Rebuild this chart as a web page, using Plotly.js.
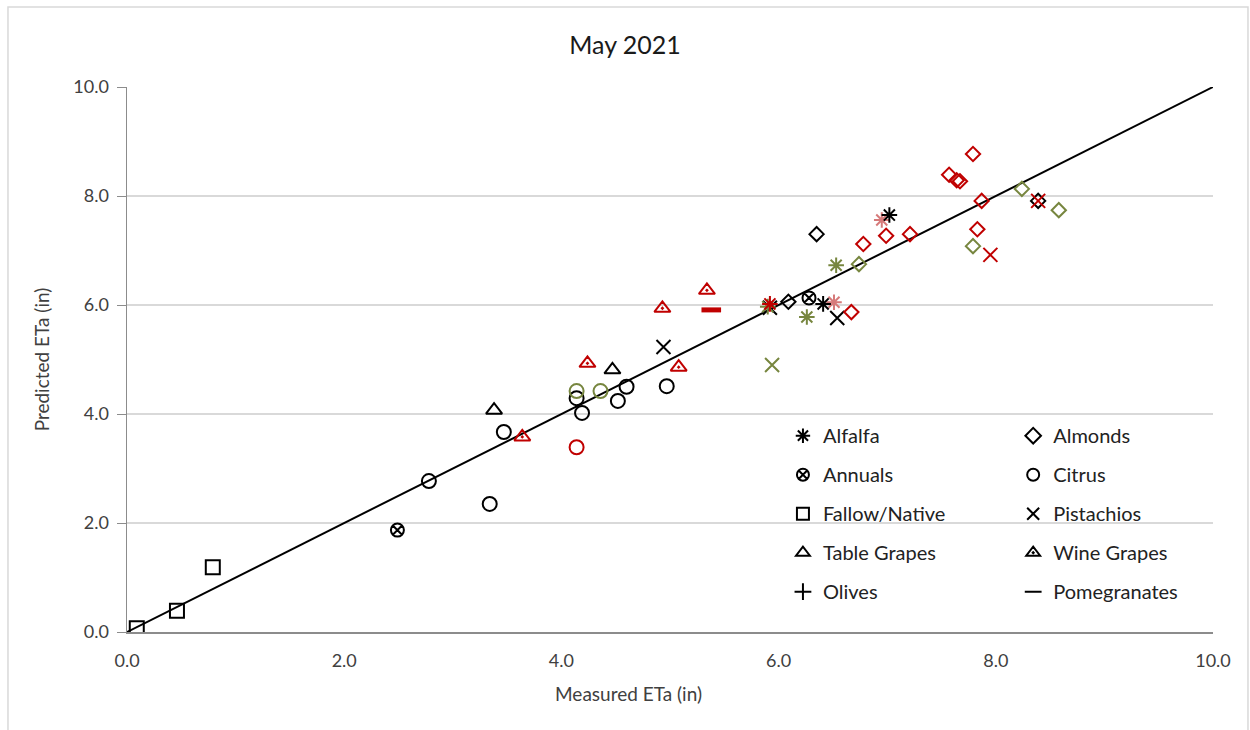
<!DOCTYPE html>
<html>
<head>
<meta charset="utf-8">
<script src="https://cdn.plot.ly/plotly-3.0.1.min.js"></script>
<style>html,body{margin:0;padding:0;background:#fff;}#chart{width:1250px;height:730px;}</style>
</head>
<body>
<div id="chart"></div>
<script>
// ---- data (Measured ETa x, Predicted ETa y, inches) ----
const oneToOneX = [0, 10];
const oneToOneY = [0, 10];

const alfalfaBlackX = [7.02, 6.41];
const alfalfaBlackY = [7.65, 6.02];
const alfalfaRedX = [5.92];
const alfalfaRedY = [6.02];
const alfalfaOliveX = [6.26, 6.53, 5.90];
const alfalfaOliveY = [5.78, 6.73, 5.97];
const alfalfaPinkX = [6.95, 6.51];
const alfalfaPinkY = [7.56, 6.05];

const almondsBlackX = [6.35, 6.09, 8.39];
const almondsBlackY = [7.30, 6.06, 7.91];
const almondsRedX = [6.78, 6.99, 7.21, 6.67, 7.79, 7.57, 7.64, 7.67, 7.87, 7.83];
const almondsRedY = [7.12, 7.27, 7.30, 5.87, 8.77, 8.39, 8.29, 8.27, 7.91, 7.39];
const almondsOliveX = [6.74, 7.79, 8.24, 8.58];
const almondsOliveY = [6.75, 7.08, 8.13, 7.74];

const annualsBlackX = [2.49, 6.28];
const annualsBlackY = [1.87, 6.13];

const citrusBlackX = [2.78, 3.34, 3.47, 4.14, 4.19, 4.52, 4.60, 4.97];
const citrusBlackY = [2.77, 2.35, 3.67, 4.29, 4.02, 4.24, 4.50, 4.51];
const citrusOliveX = [4.14, 4.36];
const citrusOliveY = [4.42, 4.42];
const citrusRedX = [4.14];
const citrusRedY = [3.39];

const fallowBlackX = [0.09, 0.46, 0.79];
const fallowBlackY = [0.07, 0.39, 1.19];

const pistachiosBlackX = [4.94, 6.54, 5.92];
const pistachiosBlackY = [5.23, 5.76, 5.95];
const pistachiosRedX = [7.95, 8.39];
const pistachiosRedY = [6.92, 7.91];
const pistachiosOliveX = [5.94];
const pistachiosOliveY = [4.90];

const tableGrapesBlackX = [3.38, 4.47];
const tableGrapesBlackY = [4.07, 4.81];

const wineGrapesRedX = [3.64, 4.24, 5.08, 4.93, 5.34];
const wineGrapesRedY = [3.58, 4.93, 4.86, 5.94, 6.27];

const pomegranatesRedX = [5.38];
const pomegranatesRedY = [5.91];

const olivesX = [];
const olivesY = [];

const legendLeft = ['Alfalfa', 'Annuals', 'Fallow/Native', 'Table Grapes', 'Olives'];
const legendRight = ['Almonds', 'Citrus', 'Pistachios', 'Wine Grapes', 'Pomegranates'];

const xTickVals = [0, 2, 4, 6, 8, 10];
const yTickVals = [0, 2, 4, 6, 8, 10];
const titleText = 'May 2021';
const xTitleText = 'Measured ETa (in)';
const yTitleText = 'Predicted ETa (in)';

// ---- styles ----
const C = {black: '#000000', red: '#C00000', olive: '#77863F', pink: '#D67A7A'};
const SYM = {
  'Alfalfa': {s: 'asterisk-open', z: 13},
  'Almonds': {s: 'diamond-open', z: 11},
  'Annuals': {s: 'circle-x-open', z: 13},
  'Citrus': {s: 'circle-open', z: 14},
  'Fallow/Native': {s: 'square-open', z: 14},
  'Pistachios': {s: 'x-thin-open', z: 14},
  'Table Grapes': {s: 'triangle-up-open', z: 14},
  'Wine Grapes': {s: 'triangle-up-open-dot', z: 14},
  'Olives': {s: 'cross-thin-open', z: 13},
  'Pomegranates': {s: 'line-ew-open', z: 14}
};

const traces = [];
traces.push({x: oneToOneX, y: oneToOneY, mode: 'lines', line: {color: '#000', width: 2}, showlegend: false, hoverinfo: 'skip'});

function pts(name, color, xs, ys) {
  const st = SYM[name];
  traces.push({
    x: xs, y: ys, mode: 'markers', name: name, showlegend: false,
    marker: {symbol: st.s, size: st.z, color: color, line: {color: color, width: name === 'Pomegranates' ? 5 : 2}}
  });
}
pts('Fallow/Native', C.black, fallowBlackX, fallowBlackY);
pts('Citrus', C.black, citrusBlackX, citrusBlackY);
pts('Citrus', C.olive, citrusOliveX, citrusOliveY);
pts('Citrus', C.red, citrusRedX, citrusRedY);
pts('Annuals', C.black, annualsBlackX, annualsBlackY);
pts('Table Grapes', C.black, tableGrapesBlackX, tableGrapesBlackY);
pts('Wine Grapes', C.red, wineGrapesRedX, wineGrapesRedY);
pts('Pomegranates', C.red, pomegranatesRedX, pomegranatesRedY);
pts('Olives', C.black, olivesX, olivesY);
pts('Pistachios', C.black, pistachiosBlackX, pistachiosBlackY);
pts('Pistachios', C.olive, pistachiosOliveX, pistachiosOliveY);
pts('Almonds', C.black, almondsBlackX, almondsBlackY);
pts('Almonds', C.olive, almondsOliveX, almondsOliveY);
pts('Almonds', C.red, almondsRedX, almondsRedY);
pts('Alfalfa', C.olive, alfalfaOliveX, alfalfaOliveY);
pts('Alfalfa', C.pink, alfalfaPinkX, alfalfaPinkY);
pts('Alfalfa', C.red, alfalfaRedX, alfalfaRedY);
pts('Alfalfa', C.black, alfalfaBlackX, alfalfaBlackY);
pts('Pistachios', C.red, pistachiosRedX, pistachiosRedY);

function legendEntry(name, legendId) {
  const st = SYM[name];
  traces.push({
    x: [null], y: [null], mode: 'markers', name: name, legend: legendId, legendgroup: name, showlegend: true,
    marker: {symbol: st.s, size: 11, color: '#000', line: {color: '#000', width: name === 'Pomegranates' ? 5 : 1.8}}
  });
}
legendLeft.forEach(n => legendEntry(n, 'legend'));
legendRight.forEach(n => legendEntry(n, 'legend2'));

const FONT = 'Lato, "Liberation Sans", sans-serif';
const legendCommon = {
  yanchor: 'top', xanchor: 'left', bgcolor: 'rgba(255,255,255,0)', borderwidth: 0,
  font: {family: FONT, size: 20, color: '#222'}, tracegroupgap: 10, itemsizing: 'constant'
};

const layout = {
  width: 1250, height: 730,
  paper_bgcolor: '#fff', plot_bgcolor: '#fff',
  margin: {l: 127, r: 37, t: 87, b: 98},
  font: {family: FONT, color: '#404040'},
  title: {text: titleText, x: 0.5, xref: 'container', y: 0.938, yanchor: 'middle', font: {family: FONT, size: 25, color: '#1a1a1a'}},
  xaxis: {
    range: [0, 10], tickvals: xTickVals, tickformat: '.1f', showgrid: false, zeroline: false,
    showline: true, linecolor: '#8c8c8c', linewidth: 1.5, ticks: '', ticklabelstandoff: 12,
    tickfont: {family: FONT, size: 18, color: '#404040'}
  },
  yaxis: {
    range: [0, 10], tickvals: yTickVals, tickformat: '.1f', showgrid: true, gridcolor: '#d9d9d9', gridwidth: 1.5,
    zeroline: false, showline: true, linecolor: '#8c8c8c', linewidth: 1.5, ticks: 'outside', ticklen: 9, tickcolor: '#8c8c8c',
    ticklabelstandoff: 4,
    tickfont: {family: FONT, size: 18, color: '#404040'},
    title: {text: yTitleText, font: {family: FONT, size: 19, color: '#404040'}, standoff: 18}
  },
  annotations: [{text: xTitleText, xref: 'paper', yref: 'paper', x: 0.462, y: -0.112, xanchor: 'center', yanchor: 'middle',
    showarrow: false, font: {family: FONT, size: 19, color: '#404040'}}],
  legend: Object.assign({x: 0.604, y: 0.396}, legendCommon),
  legend2: Object.assign({x: 0.816, y: 0.396}, legendCommon),
  shapes: [{type: 'rect', xref: 'paper', yref: 'paper', x0: -0.1096, x1: 1.0322, y0: -0.2, y1: 1.1468,
    line: {color: '#d9d9d9', width: 1.5}, fillcolor: 'rgba(0,0,0,0)', layer: 'below'}],
  showlegend: true
};

Plotly.newPlot('chart', traces, layout, {displayModeBar: false, staticPlot: true});
</script>
</body>
</html>
